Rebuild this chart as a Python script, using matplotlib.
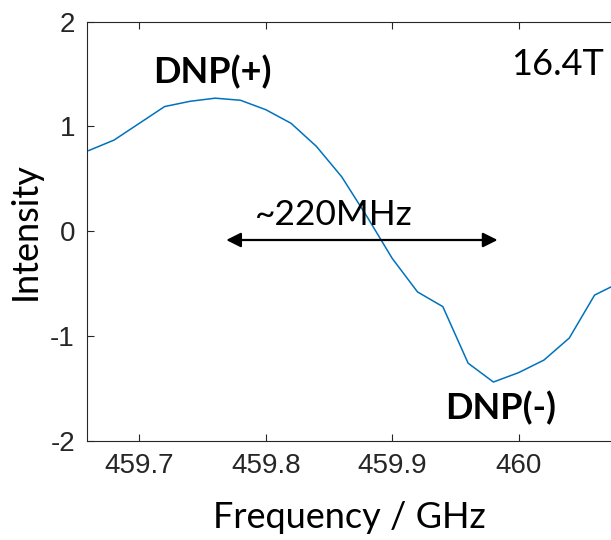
import matplotlib
matplotlib.use('Agg')
import matplotlib.pyplot as plt

plt.rcParams['axes.unicode_minus'] = False

# DNP sweep at 16.4 T
freq = [459.66, 459.68, 459.70, 459.72, 459.74, 459.76, 459.78, 459.80,
        459.82, 459.84, 459.86, 459.88, 459.90, 459.92, 459.94, 459.96,
        459.98, 460.00, 460.02, 460.04, 460.06, 460.08]
intensity = [0.77, 0.87, 1.03, 1.19, 1.24, 1.27, 1.25, 1.16,
             1.03, 0.81, 0.52, 0.14, -0.26, -0.58, -0.72, -1.26,
             -1.44, -1.35, -1.23, -1.02, -0.61, -0.49]

xticks = [459.7, 459.8, 459.9, 460.0]
xticklabels = ['459.7', '459.8', '459.9', '460']
yticks = [-2, -1, 0, 1, 2]

# peak-to-peak span marked with the arrow
arrow_from = 459.7687
arrow_to = 459.9833
arrow_y = -0.084

label_font = 'Lato'
tick_font = 'Liberation Sans'
axis_col = '#262626'

fig = plt.figure(figsize=(6.11, 5.4), dpi=100)
ax = fig.add_axes([0.1432, 0.1839, 1 - 0.1432, 0.9598 - 0.1839])

ax.plot(freq, intensity, color='#0072BD', lw=1.1)

ax.set_xlim(459.659, 460.073)
ax.set_ylim(-2, 2)
ax.set_xticks(xticks)
ax.set_xticklabels(xticklabels)
ax.set_yticks(yticks)

for side in ['left', 'bottom', 'top']:
    ax.spines[side].set_color(axis_col)
    ax.spines[side].set_linewidth(0.8)
ax.spines['right'].set_visible(False)

ax.tick_params(direction='in', length=5, width=0.8, color=axis_col,
               labelcolor=axis_col, labelsize=20, top=True, right=False, pad=9)
for lab in ax.get_xticklabels() + ax.get_yticklabels():
    lab.set_family(tick_font)

ax.set_xlabel('Frequency / GHz', family=label_font, fontsize=26, labelpad=16)
ax.set_ylabel('Intensity', family=label_font, fontsize=26, labelpad=6)

ax.text(459.7108, 1.412, 'DNP(+)', family=label_font, fontweight='bold',
        fontsize=26, ha='left', va='baseline')
ax.text(459.9415, -1.796, 'DNP(-)', family=label_font, fontweight='bold',
        fontsize=26, ha='left', va='baseline')
ax.text(459.9942, 1.491, '16.4T', family=label_font, fontsize=26,
        ha='left', va='baseline')
ax.text(459.7916, 0.059, '~220MHz', family=label_font, fontsize=25.5,
        ha='left', va='baseline')

ax.annotate('', xy=(arrow_to, arrow_y), xytext=(arrow_from, arrow_y),
            arrowprops=dict(arrowstyle='<|-|>', color='black', lw=1.6,
                            mutation_scale=22, shrinkA=0, shrinkB=0))

fig.savefig('out.png', dpi=100)
